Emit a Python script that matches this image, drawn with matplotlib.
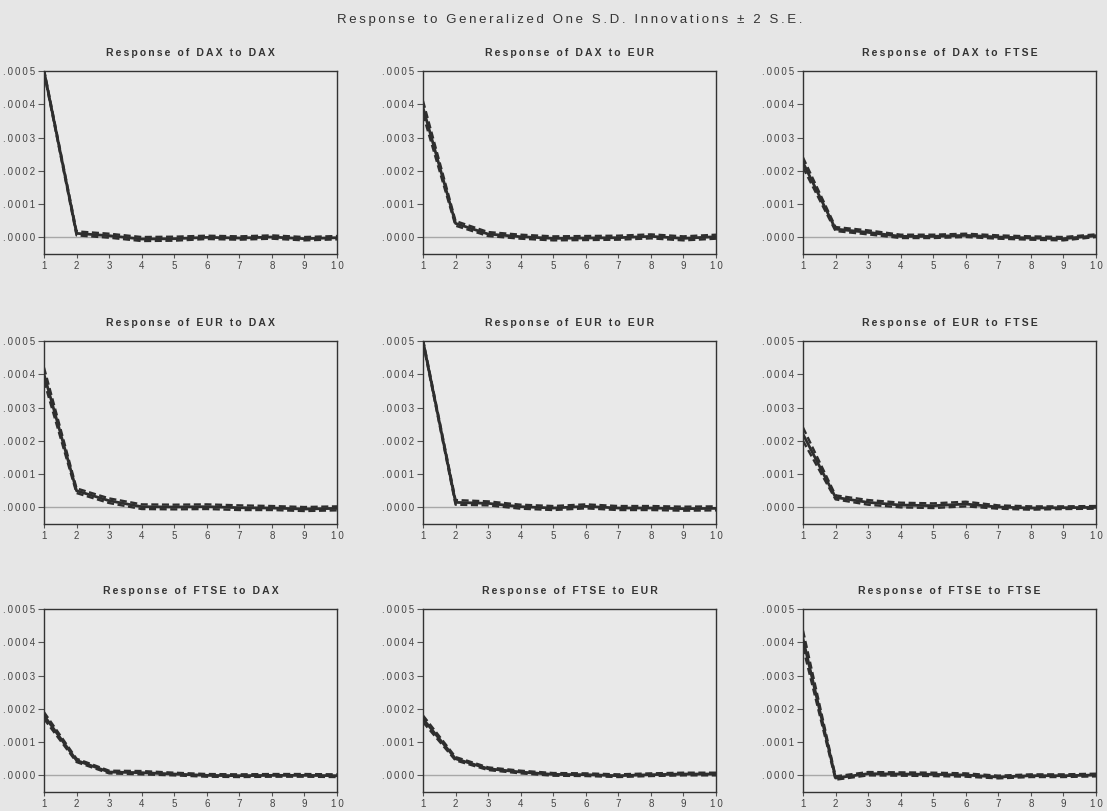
import matplotlib
matplotlib.use("Agg")
import matplotlib.pyplot as plt
from matplotlib.ticker import FuncFormatter

plt.rcParams['font.family'] = ['Liberation Sans', 'DejaVu Sans']

periods = [1, 2, 3, 4, 5, 6, 7, 8, 9, 10]
names = ['DAX', 'EUR', 'FTSE']

# responses (rows: response of, cols: shock to)
dax_dax = [0.00050, 0.000012, 0.000005, -0.000005, -0.000004, 0.0, -0.000002, 0.000001, -0.000004, -0.000001]
dax_eur = [0.00039, 0.000042, 0.000010, 0.000002, -0.000003, -0.000002, -0.000001, 0.000003, -0.000003, 0.000002]
dax_ftse = [0.000225, 0.000025, 0.000015, 0.000003, 0.000003, 0.000006, 0.000001, -0.000002, -0.000004, 0.000005]
eur_dax = [0.00040, 0.000050, 0.000020, 0.000002, 0.000001, 0.000002, -0.000001, -0.000002, -0.000005, -0.000003]
eur_eur = [0.00050, 0.000015, 0.000012, 0.000002, -0.000002, 0.000003, -0.000002, -0.000002, -0.000004, -0.000003]
eur_ftse = [0.00022, 0.000030, 0.000015, 0.000007, 0.000005, 0.000010, 0.000001, -0.000002, -0.000001, 0.0]
ftse_dax = [0.00018, 0.000045, 0.000010, 0.000008, 0.000004, 0.0, -0.000001, 0.0, 0.0, -0.000001]
ftse_eur = [0.00017, 0.000050, 0.000020, 0.000010, 0.000003, 0.000002, -0.000001, 0.000002, 0.000004, 0.000004]
ftse_ftse = [0.00041, -0.000008, 0.000005, 0.000004, 0.000003, 0.000001, -0.000005, -0.000001, -0.000001, 0.000001]

# 2 S.E. half widths
se_dax_dax = [0.000005, 0.000006, 0.000006, 0.000006, 0.000006, 0.000005, 0.000005, 0.000005, 0.000005, 0.000005]
se_dax_eur = [0.000020, 0.000007, 0.000006, 0.000006, 0.000006, 0.000006, 0.000006, 0.000006, 0.000006, 0.000006]
se_dax_ftse = [0.000015, 0.000006, 0.000006, 0.000005, 0.000005, 0.000005, 0.000005, 0.000005, 0.000005, 0.000004]
se_eur_dax = [0.000020, 0.000007, 0.000007, 0.000007, 0.000007, 0.000007, 0.000007, 0.000006, 0.000006, 0.000006]
se_eur_eur = [0.000005, 0.000007, 0.000006, 0.000006, 0.000006, 0.000006, 0.000006, 0.000006, 0.000006, 0.000006]
se_eur_ftse = [0.000020, 0.000006, 0.000007, 0.000007, 0.000007, 0.000007, 0.000005, 0.000005, 0.000004, 0.000004]
se_ftse_dax = [0.000010, 0.000005, 0.000004, 0.000005, 0.000004, 0.000004, 0.000004, 0.000004, 0.000004, 0.000004]
se_ftse_eur = [0.000010, 0.000005, 0.000004, 0.000004, 0.000004, 0.000004, 0.000004, 0.000004, 0.000004, 0.000004]
se_ftse_ftse = [0.000025, 0.000005, 0.000005, 0.000005, 0.000005, 0.000005, 0.000004, 0.000004, 0.000004, 0.000004]

responses = [[dax_dax, dax_eur, dax_ftse],
             [eur_dax, eur_eur, eur_ftse],
             [ftse_dax, ftse_eur, ftse_ftse]]
bands = [[se_dax_dax, se_dax_eur, se_dax_ftse],
         [se_eur_dax, se_eur_eur, se_eur_ftse],
         [se_ftse_dax, se_ftse_eur, se_ftse_ftse]]

bg = '#e6e6e6'
ink = '#2e2e2e'
THIN = '\u2009'


def spaced(s, sep=THIN):
    # the scan has wide letter spacing
    return sep.join(s)


fig = plt.figure(figsize=(11.07, 8.11), dpi=100, facecolor=bg)
W, H = 1107.0, 811.0
col_left = [44, 423, 803]
row_top = [71, 341, 609]
ax_w, ax_h = 293, 183

yfmt = FuncFormatter(lambda v, p: spaced(('%.4f' % v).replace('0.', '.', 1)))
xfmt = FuncFormatter(lambda v, p: spaced('%d' % v))

for i in range(3):
    for j in range(3):
        ax = fig.add_axes([col_left[j] / W, 1 - (row_top[i] + ax_h) / H, ax_w / W, ax_h / H])
        ax.set_facecolor('#e9e9e9')
        r = responses[i][j]
        s = bands[i][j]
        up = [a + b for a, b in zip(r, s)]
        lo = [a - b for a, b in zip(r, s)]
        ax.axhline(0, color='#a8a8a8', lw=1.0, zorder=1)
        ax.plot(periods, up, color=ink, lw=1.7, ls=(0, (3, 1.5)), zorder=2)
        ax.plot(periods, lo, color=ink, lw=1.7, ls=(0, (3, 1.5)), zorder=2)
        ax.plot(periods, r, color=ink, lw=2.0, zorder=3)
        ax.set_xlim(1, 10)
        ax.set_ylim(-0.00005, 0.0005)
        ax.set_xticks(periods)
        ax.set_yticks([0, 0.0001, 0.0002, 0.0003, 0.0004, 0.0005])
        ax.yaxis.set_major_formatter(yfmt)
        ax.xaxis.set_major_formatter(xfmt)
        ax.tick_params(direction='out', width=0.8, color='#555555',
                       labelsize=7, labelcolor='#444444')
        ax.tick_params(axis='x', length=3, pad=2)
        ax.tick_params(axis='y', length=4, pad=2.5)
        for sp in ax.spines.values():
            sp.set_color('#333333')
            sp.set_linewidth(1.0)
        ax.set_title(spaced('Response of %s to %s' % (names[i], names[j])),
                     fontsize=7.5, fontweight='bold', color='#333333', pad=11)

fig.text(570 / W, 1 - 20 / H, spaced('Response to Generalized One S.D. Innovations \u00b1 2 S.E.'),
         ha='center', va='center', fontsize=9.5, color='#333333')

fig.savefig('out.png', dpi=100, facecolor=bg)
